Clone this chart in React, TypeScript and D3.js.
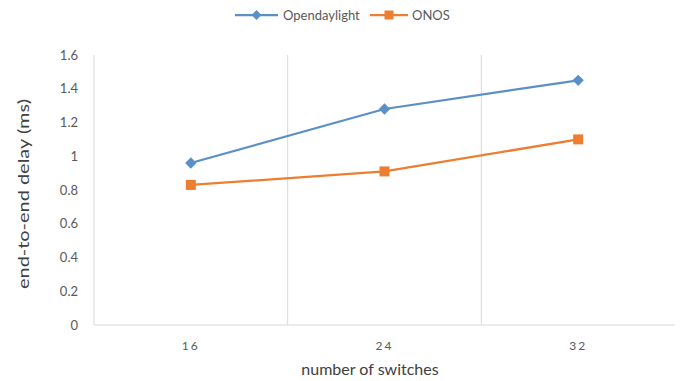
import React from "react";
import * as d3 from "d3";

const categories = ["16", "24", "32"];
const opendaylight = [0.96, 1.28, 1.45];
const onos = [0.83, 0.91, 1.1];
const yTicks = [0, 0.2, 0.4, 0.6, 0.8, 1, 1.2, 1.4, 1.6];

const W = 683;
const H = 381;
const left = 94;
const right = 675;
const top = 55;
const bottom = 325;

const BLUE = "#5b8fc7";
const ORANGE = "#ed7d31";
const FONT = "Lato, 'Open Sans', sans-serif";

export default function App() {
  const x = d3.scaleBand<string>().domain(categories).range([left, right]);
  const y = d3.scaleLinear().domain([0, 1.6]).range([bottom, top]);
  const cx = (c: string) => (x(c) as number) + x.bandwidth() / 2;

  const line = d3
    .line<number>()
    .x((_, i) => cx(categories[i]))
    .y((v) => y(v));

  const boundaries = categories.slice(1).map((c) => x(c) as number);

  return (
    <svg
      width={W}
      height={H}
      style={{ position: "absolute", left: 0, top: 0, background: "#fff" }}
      fontFamily={FONT}
    >
      {/* vertical gridlines between categories */}
      {boundaries.map((bx, i) => (
        <line key={i} x1={bx} x2={bx} y1={top} y2={bottom} stroke="#d9d9d9" strokeWidth={1} />
      ))}
      {/* axes */}
      <line x1={left} x2={left} y1={top} y2={bottom} stroke="#d9d9d9" />
      <line x1={left} x2={right} y1={bottom} y2={bottom} stroke="#d9d9d9" />

      {/* y tick labels */}
      {yTicks.map((t) => (
        <text
          key={t}
          x={78}
          y={y(t)}
          dy="0.35em"
          textAnchor="end"
          fontSize={13}
          fill="#595959"
        >
          {d3.format("~g")(t)}
        </text>
      ))}

      {/* x tick labels */}
      {categories.map((c) => (
        <text
          key={c}
          x={cx(c)}
          y={350}
          textAnchor="middle"
          fontSize={12}
          letterSpacing={2}
          fill="#595959"
        >
          {c}
        </text>
      ))}

      {/* axis titles */}
      <text x={370} y={375} textAnchor="middle" fontSize={16} fill="#404040">
        number of switches
      </text>
      <text
        transform={`translate(29, 194) rotate(-90)`}
        textAnchor="middle"
        fontSize={16}
        textLength={190}
        lengthAdjust="spacingAndGlyphs"
        fill="#404040"
      >
        end-to-end delay (ms)
      </text>

      {/* series */}
      <path d={line(opendaylight) || ""} fill="none" stroke={BLUE} strokeWidth={2.25} />
      <path d={line(onos) || ""} fill="none" stroke={ORANGE} strokeWidth={2.25} />
      {opendaylight.map((v, i) => (
        <rect
          key={i}
          x={-4}
          y={-4}
          width={8}
          height={8}
          fill={BLUE}
          transform={`translate(${cx(categories[i])}, ${y(v)}) rotate(45)`}
        />
      ))}
      {onos.map((v, i) => (
        <rect
          key={i}
          x={cx(categories[i]) - 5}
          y={y(v) - 5}
          width={10}
          height={10}
          fill={ORANGE}
        />
      ))}

      {/* legend */}
      <line x1={235} x2={278} y1={15} y2={15} stroke={BLUE} strokeWidth={2.25} />
      <rect x={-3.5} y={-3.5} width={7} height={7} fill={BLUE} transform="translate(256.5,15) rotate(45)" />
      <text x={283} y={15} dy="0.35em" fontSize={13} fill="#595959">
        Opendaylight
      </text>
      <line x1={370} x2={408} y1={15} y2={15} stroke={ORANGE} strokeWidth={2.25} />
      <rect x={384.5} y={10.5} width={9} height={9} fill={ORANGE} />
      <text x={412} y={15} dy="0.35em" fontSize={13} fill="#595959">
        ONOS
      </text>
    </svg>
  );
}
